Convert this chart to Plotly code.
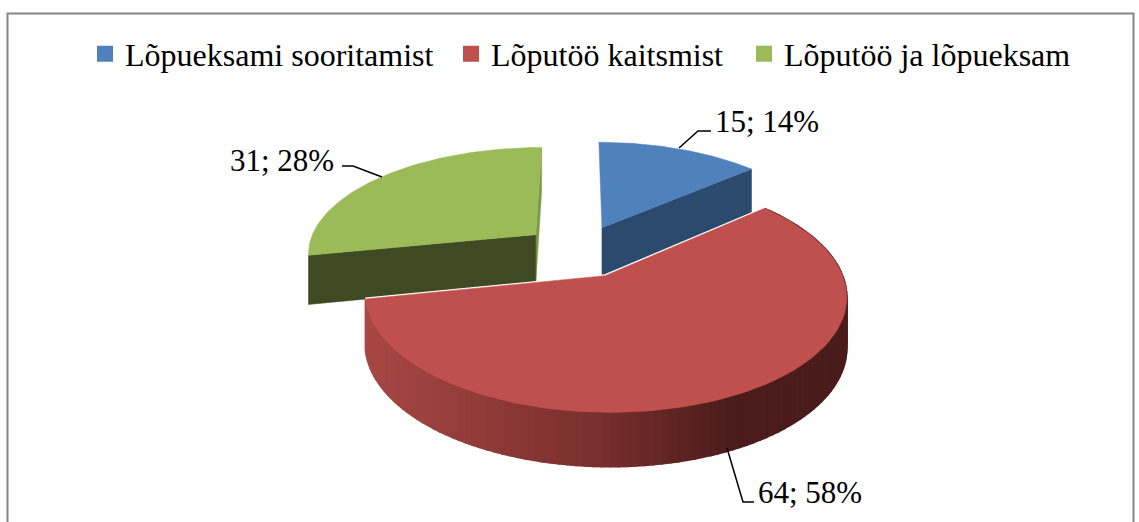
import numpy as np
import plotly.graph_objects as go

categories = ["Lõpueksami sooritamist", "Lõputöö kaitsmist", "Lõputöö ja lõpueksam"]
values = [15, 64, 31]
percents = [14, 58, 28]
top_colors = ["#4F81BD", "#C0504D", "#9BBB59"]
wall_colors = ["#2C4A6E", "#7A302E", "#3F4A22"]
labels = ["15; 14%", "64; 58%", "31; 28%"]
label_x = [767, 810, 282]
label_y = [121, 492, 160]
leader_x = [[679, 698, 711], [727, 743, 754], [382, 353, 342]]
leader_y = [[148, 131, 131], [448, 502, 502], [177, 166, 166]]
legend_text_left = [125, 491, 784]

# projection of the tilted pie
CX, CY, A, B, K, PULL, DEPTH, DK = 579, 251, 229, 106, 0.16, 0.25, 49, 0.08
FONT = "Liberation Serif"


def project(X, Y, drop=0.0):
    s = 1 / (1 + K * Y)
    return CX + A * X * s, CY - B * Y * s + drop * DEPTH / (1 + DK * Y)


total = sum(values)
edges = np.concatenate([[0], np.cumsum(values)]) / total * 2 * np.pi


def slice_world(i, n=90):
    a0, a1 = edges[i], edges[i + 1]
    mid = (a0 + a1) / 2
    cx, cy = PULL * np.sin(mid), PULL * np.cos(mid)
    th = np.linspace(a0, a1, n)
    return cx, cy, cx + np.sin(th), cy + np.cos(th)


def poly(fig, xs, ys, color, line=None, width=0.5):
    fig.add_trace(go.Scatter(
        x=list(xs) + [xs[0]], y=list(ys) + [ys[0]], mode="lines", fill="toself", fillcolor=color,
        line=dict(color=line or color, width=width), hoverinfo="skip", showlegend=False))


def radial_wall(fig, cx, cy, px, py, color):
    x0, y0 = project(cx, cy)
    x1, y1 = project(px, py)
    x2, y2 = project(px, py, 1)
    x3, y3 = project(cx, cy, 1)
    poly(fig, [x0, x1, x2, x3], [y0, y1, y2, y3], color)


def red_shade(x):
    stops_x = [367, 600, 730, 850]
    r = np.interp(x, stops_x, [0xA8, 0x78, 0x4C, 0x4A])
    g = np.interp(x, stops_x, [0x48, 0x2F, 0x1D, 0x1C])
    b = np.interp(x, stops_x, [0x44, 0x2D, 0x1C, 0x1B])
    return f"rgb({int(r)},{int(g)},{int(b)})"


fig = go.Figure()

# green slice (walls, then top)
cx, cy, wx, wy = slice_world(2)
radial_wall(fig, cx, cy, wx[-1], wy[-1], "#7E9A48")
radial_wall(fig, cx, cy, wx[0], wy[0], wall_colors[2])
tx, ty = project(np.r_[cx, wx], np.r_[cy, wy])
poly(fig, tx, ty, top_colors[2])

# blue slice
cx, cy, wx, wy = slice_world(0)
radial_wall(fig, cx, cy, wx[-1], wy[-1], wall_colors[0])
tx, ty = project(np.r_[cx, wx], np.r_[cy, wy])
poly(fig, tx, ty, top_colors[0])

# red slice: outer wall in shaded strips, then top with white radial edges
cx, cy, wx, wy = slice_world(1, 121)
for j in range(len(wx) - 1):
    x0, y0 = project(wx[j], wy[j])
    x1, y1 = project(wx[j + 1], wy[j + 1])
    x2, y2 = project(wx[j + 1], wy[j + 1], 1)
    x3, y3 = project(wx[j], wy[j], 1)
    c = red_shade((x0 + x1) / 2)
    poly(fig, [x0, x1, x2, x3], [y0, y1, y2, y3], c, c, 1.5)
tx, ty = project(np.r_[cx, wx], np.r_[cy, wy])
ex, ey = project(np.array([wx[0], cx, wx[-1]]), np.array([wy[0], cy, wy[-1]]))
fig.add_trace(go.Scatter(x=ex, y=ey, mode="lines", line=dict(color="#FFFFFF", width=3),
                         hoverinfo="skip", showlegend=False))
poly(fig, tx, ty, top_colors[1])

# leaders and labels
for lx, ly in zip(leader_x, leader_y):
    fig.add_trace(go.Scatter(x=lx, y=ly, mode="lines", line=dict(color="#000000", width=1.5),
                             hoverinfo="skip", showlegend=False))
for t, x, y in zip(labels, label_x, label_y):
    fig.add_annotation(x=x, y=y, text=t, showarrow=False, xanchor="center", yanchor="middle",
                       font=dict(family=FONT, size=31, color="#000000"))

# legend entries, one positioned legend per category
legends = {}
for i, (name, color, left) in enumerate(zip(categories, top_colors, legend_text_left)):
    key = "legend" if i == 0 else f"legend{i + 1}"
    fig.add_trace(go.Scatter(x=[None], y=[None], mode="markers", name=name, legend=key,
                             marker=dict(symbol="square", size=16, color=color)))
    legends[key] = dict(orientation="h", x=(left - 40) / 1139, y=1 - 54 / 522,
                        xanchor="left", yanchor="middle",
                        font=dict(family=FONT, size=32, color="#000000"), itemwidth=30,
                        bgcolor="rgba(0,0,0,0)")

fig.update_layout(
    width=1139, height=522, margin=dict(l=0, r=0, t=0, b=0),
    paper_bgcolor="#FFFFFF", plot_bgcolor="#FFFFFF",
    xaxis=dict(range=[0, 1139], visible=False, fixedrange=True),
    yaxis=dict(range=[522, 0], visible=False, fixedrange=True),
    shapes=[dict(type="rect", xref="x", yref="y", x0=7.5, x1=1133.5, y0=13.5, y1=540,
                 line=dict(color="#868686", width=2), layer="below")],
    **legends,
)
fig.write_html("out.html", config={"displayModeBar": False},
               post_script="document.body.style.margin='0';document.body.style.overflow='hidden';")
